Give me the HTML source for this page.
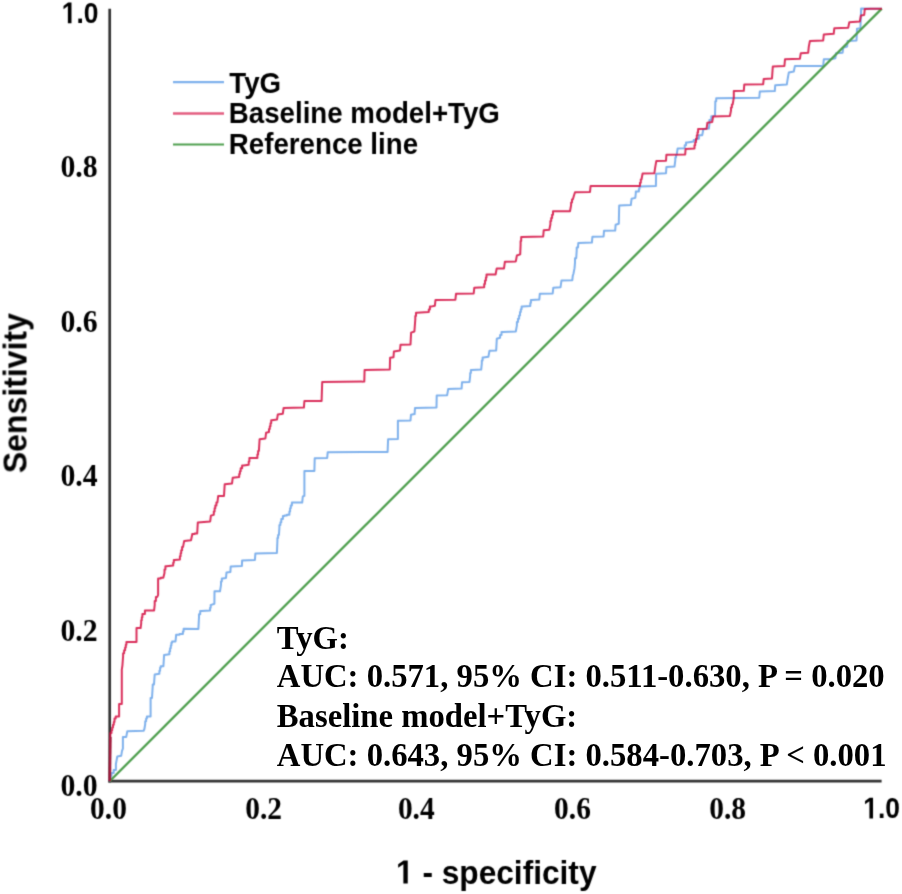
<!DOCTYPE html>
<html><head><meta charset="utf-8">
<style>
html,body{margin:0;padding:0;background:#fff;width:902px;height:894px;overflow:hidden}
svg{display:block}
.sb{font-family:"Liberation Sans",sans-serif;font-weight:bold}
.rb{font-family:"Liberation Serif",serif;font-weight:bold}
</style></head><body>
<svg width="902" height="894" viewBox="0 0 902 894">
<defs><filter id="bl" color-interpolation-filters="sRGB" filterUnits="userSpaceOnUse" x="0" y="0" width="902" height="894"><feConvolveMatrix order="3" kernelMatrix="0.0622 0.2494 0.0622 0.2494 1.0000 0.2494 0.0622 0.2494 0.0622" edgeMode="duplicate" preserveAlpha="false"/></filter></defs>
<rect width="902" height="894" fill="#fff"/>
<g filter="url(#bl)">
<g fill="#000">
<g transform="translate(97.6,176.6) scale(0.96,1)"><text class="rb" font-size="31" x="0" y="0" text-anchor="end">0.8</text></g>
<g transform="translate(97.6,331.6) scale(0.96,1)"><text class="rb" font-size="31" x="0" y="0" text-anchor="end">0.6</text></g>
<g transform="translate(97.6,486) scale(0.96,1)"><text class="rb" font-size="31" x="0" y="0" text-anchor="end">0.4</text></g>
<g transform="translate(97.6,641) scale(0.96,1)"><text class="rb" font-size="31" x="0" y="0" text-anchor="end">0.2</text></g>
<g transform="translate(97.6,796) scale(0.96,1)"><text class="rb" font-size="31" x="0" y="0" text-anchor="end">0.0</text></g>
<g transform="translate(108.5,818.6) scale(0.95,1)"><text class="rb" font-size="31" x="0" y="0" text-anchor="middle">0.0</text></g>
<g transform="translate(263.6,818.6) scale(0.95,1)"><text class="rb" font-size="31" x="0" y="0" text-anchor="middle">0.2</text></g>
<g transform="translate(416.3,818.6) scale(0.95,1)"><text class="rb" font-size="31" x="0" y="0" text-anchor="middle">0.4</text></g>
<g transform="translate(572.5,818.6) scale(0.95,1)"><text class="rb" font-size="31" x="0" y="0" text-anchor="middle">0.6</text></g>
<g transform="translate(727.6,818.6) scale(0.95,1)"><text class="rb" font-size="31" x="0" y="0" text-anchor="middle">0.8</text></g>
<g transform="translate(61.7004,23.2) scale(0.88,1)"><path d="M478 0H759V1409H493L140 1180V959L478 1170Z" transform="scale(0.014648,-0.014648)"/><text class="sb" font-size="30" x="0" y="0">&#x2007;.0</text></g>
<g transform="translate(863.25,818.4) scale(0.88,1)"><path d="M478 0H759V1409H493L140 1180V959L478 1170Z" transform="scale(0.014648,-0.014648)"/><text class="sb" font-size="30" x="0" y="0">&#x2007;.0</text></g>
<g transform="translate(396,883.5) scale(0.945,1)"><path d="M478 0H759V1409H493L140 1180V959L478 1170Z" transform="scale(0.016357,-0.016357)"/><text class="sb" font-size="33.5" x="0" y="0">&#x2007; - specificity</text></g>
<g transform="translate(26.5,393.2) rotate(-90) scale(0.955,1)"><text class="sb" font-size="33.5" x="0" y="0" text-anchor="middle">Sensitivity</text></g>
</g>
<!-- legend -->
<g stroke-width="2.2" fill="none">
<line x1="173" y1="82.1" x2="224" y2="82.1" stroke="#7fb1ec" stroke-width="2.4"/>
<line x1="173" y1="113.5" x2="224" y2="113.5" stroke="#e35d80" stroke-width="2.6"/>
<line x1="173" y1="144.5" x2="224" y2="144.5" stroke="#4f9f4f"/>
</g>
<g class="sb" font-size="29" fill="#000">
<g transform="translate(229.3,92.7) scale(0.955,1)"><text x="0" y="0">TyG</text></g>
<g transform="translate(228.8,123.2) scale(0.955,1)"><text x="0" y="0">Baseline model+TyG</text></g>
<g transform="translate(228.8,154) scale(0.955,1)"><text x="0" y="0">Reference line</text></g>
</g>
<!-- axes -->
<g stroke="#333" stroke-width="2.7" stroke-linecap="butt">
<line x1="109.7" y1="8.7" x2="109.7" y2="782.5"/>
<line x1="108.4" y1="781.2" x2="881.6" y2="781.2"/>
</g>
<!-- curves -->
<g fill="none" stroke-width="2" stroke-linejoin="round">
<path d="M109.7 781.2 L109.7 778.6 L110.6 778.6 L110.6 776.0 L111.5 776.0 L111.5 773.0 L113.7 773.0 L113.7 770.1 L115.9 770.1 L115.9 764.0 L116.7 759.7 L117.3 756.4 L121.2 755.8 L122.0 750.8 L122.9 748.6 L122.9 738.5 L122.9 737.1 L126.2 737.1 L127.3 731.2 L143.6 730.7 L144.4 729.0 L145.2 724.0 L145.2 721.2 L146.1 721.2 L146.1 718.4 L146.9 718.4 L146.9 716.6 L150.6 716.6 L150.6 699.2 L150.6 697.9 L152.0 697.9 L152.7 686.4 L152.7 684.4 L154.0 684.4 L154.7 674.4 L159.4 673.7 L159.4 670.7 L160.1 670.7 L160.1 667.7 L160.7 667.7 L160.7 666.3 L163.4 666.3 L164.1 654.9 L169.4 654.2 L169.4 651.2 L170.1 651.2 L170.1 648.2 L170.8 648.2 L170.8 645.5 L171.4 645.5 L171.4 642.8 L172.1 642.8 L172.1 641.5 L175.5 641.5 L176.1 635.4 L176.1 634.8 L179.5 634.8 L179.5 634.1 L182.9 634.1 L182.9 631.5 L183.6 631.5 L183.6 628.8 L184.2 628.8 L198.4 628.9 L199.0 617.2 L199.0 614.2 L200.2 614.2 L200.2 611.1 L201.5 611.1 L210.1 610.5 L210.1 607.7 L210.7 607.7 L210.7 604.9 L211.3 604.9 L214.4 603.7 L214.5 591.3 L220.0 591.3 L221.0 584.9 L221.0 581.6 L221.8 581.6 L221.8 578.4 L222.5 578.4 L226.0 577.9 L226.5 572.4 L230.4 571.9 L230.7 566.4 L241.9 565.9 L242.1 560.4 L254.9 559.9 L255.4 553.4 L276.9 552.9 L277.4 541.0 L277.4 538.0 L278.1 538.0 L278.1 535.0 L278.9 535.0 L279.4 528.0 L279.4 525.1 L280.4 525.1 L280.4 522.3 L281.3 522.3 L281.3 519.1 L282.9 519.1 L282.9 516.0 L284.5 516.0 L284.5 515.4 L286.9 515.4 L286.9 514.8 L289.4 514.8 L289.4 511.5 L290.1 511.5 L290.1 508.3 L290.8 508.3 L290.8 505.4 L291.9 505.4 L291.9 502.5 L293.0 502.5 L302.2 502.6 L302.8 496.5 L304.4 495.9 L304.4 471.0 L314.4 471.0 L314.7 458.2 L327.2 457.9 L327.7 452.2 L387.6 451.9 L388.1 439.2 L397.9 438.9 L397.9 420.7 L410.5 420.5 L411.0 414.7 L414.6 414.1 L415.0 407.9 L436.5 407.6 L436.7 395.6 L447.1 395.3 L448.2 389.1 L461.6 388.6 L462.0 382.2 L469.5 381.9 L470.2 375.7 L470.2 372.9 L470.9 372.9 L470.9 370.1 L471.7 370.1 L481.2 369.6 L481.8 363.4 L481.8 360.4 L482.6 360.4 L482.6 357.5 L483.4 357.5 L488.4 356.7 L489.5 350.8 L496.2 350.5 L496.8 338.8 L500.1 337.7 L500.1 334.9 L501.5 334.9 L501.5 332.1 L502.9 332.1 L515.8 331.5 L516.9 325.4 L516.9 322.0 L518.0 322.0 L518.0 318.7 L519.1 318.7 L519.1 315.4 L520.0 315.4 L520.0 312.0 L520.8 312.0 L520.8 309.2 L521.6 309.2 L521.6 306.4 L522.5 306.4 L530.3 306.0 L530.3 303.0 L530.9 303.0 L530.9 300.0 L531.5 300.0 L539.3 299.6 L539.8 293.7 L552.7 293.5 L553.3 287.7 L560.5 287.3 L561.5 280.4 L572.3 280.2 L572.8 275.6 L573.4 274.0 L574.5 268.4 L575.0 262.8 L575.0 258.3 L576.2 258.3 L576.7 250.5 L576.7 247.5 L578.0 247.5 L578.3 243.1 L591.9 242.6 L592.4 236.8 L603.6 236.4 L604.0 230.8 L615.2 230.6 L615.6 224.7 L618.8 223.8 L619.2 205.5 L630.8 205.1 L631.6 198.8 L635.3 197.9 L635.8 193.0 L635.8 191.6 L638.9 191.6 L638.9 189.1 L639.5 189.1 L639.5 186.5 L640.2 186.5 L655.9 186.0 L656.1 173.7 L666.0 173.2 L666.4 167.0 L674.5 166.5 L675.3 160.3 L675.3 157.6 L676.0 157.6 L676.0 154.9 L676.7 154.9 L677.6 148.6 L684.7 148.2 L684.7 145.3 L686.0 145.3 L686.0 142.4 L687.4 142.4 L693.7 141.5 L693.7 140.1 L696.3 140.1 L696.3 138.7 L698.9 138.7 L698.9 135.3 L702.2 135.3 L703.4 129.0 L708.9 128.6 L709.4 124.0 L709.4 120.1 L711.3 120.1 L711.3 116.2 L713.3 116.2 L715.0 115.5 L715.3 104.4 L715.3 101.3 L716.2 101.3 L716.2 98.3 L717.2 98.3 L759.3 97.7 L759.8 91.6 L774.8 91.1 L775.2 85.2 L786.8 84.6 L787.7 78.7 L788.8 72.6 L793.8 71.5 L794.9 66.0 L823.2 66.0 L823.8 59.3 L830.4 59.3 L835.4 58.2 L836.0 53.2 L842.6 52.7 L843.2 47.7 L847.1 46.6 L847.6 41.0 L856.5 40.5 L857.0 28.8 L860.4 28.3 L860.9 15.5 L861.1 8.6 L882.0 8.7" stroke="#7fb1ec"/>
<line x1="109.7" y1="781.2" x2="881.8" y2="8.6" stroke="#4f9f4f" stroke-width="2.3"/>
<path d="M109.7 781.2 L110.3 737.0 L110.3 733.0 L111.5 733.0 L111.5 730.2 L112.2 730.2 L112.2 727.4 L113.0 727.4 L113.0 724.7 L113.8 724.7 L113.8 722.0 L114.5 722.0 L114.5 718.5 L115.7 718.5 L115.7 716.6 L119.1 716.6 L119.1 705.9 L119.1 703.9 L121.8 703.9 L121.8 669.7 L122.4 665.6 L123.1 656.2 L123.1 653.2 L124.1 653.2 L124.1 650.2 L125.1 650.2 L125.1 647.5 L125.8 647.5 L125.8 644.8 L126.4 644.8 L126.4 642.1 L127.1 642.1 L136.5 642.1 L136.5 629.4 L136.5 628.0 L140.6 628.0 L141.2 623.4 L141.2 620.3 L141.8 620.3 L141.8 617.2 L142.4 617.2 L142.4 613.9 L144.9 613.9 L144.9 610.5 L147.3 610.5 L154.1 610.5 L154.7 604.9 L154.7 600.9 L155.9 600.9 L155.9 596.9 L157.2 596.9 L158.1 595.1 L158.1 579.1 L158.1 578.5 L160.7 578.5 L160.7 577.8 L163.3 577.8 L164.5 572.9 L164.5 569.5 L165.4 569.5 L165.4 566.2 L166.4 566.2 L173.2 565.5 L173.2 562.8 L173.8 562.8 L173.8 560.0 L174.4 560.0 L179.9 559.4 L179.9 556.3 L180.6 556.3 L180.6 553.2 L181.2 553.2 L181.2 550.2 L182.1 550.2 L182.1 547.1 L183.0 547.1 L184.2 540.9 L191.0 540.3 L192.2 534.8 L192.2 534.1 L194.7 534.1 L194.7 533.5 L197.2 533.5 L197.8 522.5 L210.2 521.4 L210.9 515.6 L213.8 514.8 L213.8 511.5 L214.6 511.5 L214.6 508.3 L215.3 508.3 L215.3 505.4 L216.4 505.4 L216.4 502.5 L217.4 502.5 L218.2 495.9 L224.0 495.9 L224.7 484.3 L232.0 483.6 L232.7 477.8 L239.2 477.0 L239.2 474.1 L239.9 474.1 L239.9 471.2 L240.7 471.2 L240.7 468.3 L242.1 468.3 L242.1 465.4 L243.6 465.4 L248.7 464.7 L248.7 461.4 L249.4 461.4 L249.4 458.1 L250.1 458.1 L257.4 458.1 L257.4 454.5 L258.1 454.5 L258.1 450.9 L258.9 450.9 L259.6 439.2 L265.4 438.5 L266.1 432.7 L269.0 432.0 L269.0 429.1 L269.8 429.1 L269.8 426.2 L270.5 426.2 L270.5 423.2 L271.2 423.2 L271.2 420.3 L271.9 420.3 L277.0 419.6 L277.8 414.5 L282.8 413.8 L283.6 408.0 L303.9 407.6 L304.4 401.0 L321.6 401.0 L322.2 382.1 L364.3 381.6 L364.6 369.9 L389.8 369.4 L390.1 357.7 L393.5 357.2 L393.9 351.5 L400.0 350.4 L400.5 344.8 L410.5 344.5 L411.1 332.6 L414.4 331.5 L415.3 319.3 L415.3 316.0 L416.0 316.0 L416.0 312.7 L416.6 312.7 L428.8 312.1 L428.8 309.4 L429.9 309.4 L429.9 306.6 L431.0 306.6 L434.9 305.7 L435.5 299.9 L455.4 299.7 L456.0 293.8 L473.7 293.5 L474.3 287.7 L484.2 287.2 L484.2 283.9 L485.0 283.9 L485.0 280.5 L485.9 280.5 L485.9 277.5 L486.5 277.5 L486.5 274.5 L487.2 274.5 L495.6 274.5 L496.7 268.4 L504.0 268.4 L504.9 261.7 L515.8 261.4 L516.9 255.5 L520.2 254.4 L520.6 244.9 L520.6 240.9 L521.2 240.9 L521.2 237.0 L521.9 237.0 L543.2 236.5 L543.7 230.3 L549.3 229.8 L550.4 224.2 L550.4 221.1 L551.2 221.1 L551.2 218.0 L552.1 218.0 L552.1 214.7 L553.0 214.7 L553.0 211.3 L553.8 211.3 L570.0 211.3 L571.1 205.2 L571.1 202.4 L572.0 202.4 L572.0 199.6 L572.8 199.6 L573.9 195.7 L575.0 192.3 L590.0 192.0 L590.6 186.0 L640.0 186.0 L640.0 182.8 L640.8 182.8 L640.8 179.5 L641.5 179.5 L642.6 173.5 L654.3 173.3 L655.2 167.3 L656.3 161.1 L666.0 160.8 L666.4 154.7 L685.2 154.4 L685.6 148.9 L694.5 148.4 L694.5 145.3 L695.2 145.3 L695.2 142.2 L696.0 142.2 L696.0 138.8 L696.8 138.8 L696.8 135.3 L697.5 135.3 L697.5 132.2 L698.1 132.2 L698.1 129.0 L698.8 129.0 L706.6 128.7 L707.4 122.7 L712.2 122.1 L713.1 116.6 L729.9 116.0 L731.0 110.5 L731.0 107.5 L731.9 107.5 L731.9 104.4 L732.7 104.4 L733.8 97.7 L733.8 91.1 L743.8 90.8 L744.3 84.4 L763.2 84.2 L763.7 78.9 L772.0 78.5 L772.8 66.5 L784.4 66.0 L785.0 59.3 L799.9 58.8 L800.8 53.2 L808.2 52.7 L808.8 46.6 L809.9 41.0 L823.2 40.5 L823.8 34.4 L833.7 33.8 L834.3 28.3 L848.2 27.7 L849.3 22.2 L859.8 21.6 L860.9 15.5 L864.2 15.0 L864.8 8.9 L882.0 8.7" stroke="#d40c40" stroke-opacity="0.85"/>
<line x1="109.8" y1="781" x2="110.3" y2="737" stroke="#a01a3c" stroke-width="2.6"/>
</g>
</g>
<!-- annotation -->
<g class="rb" font-size="32.7" fill="#000">
<text x="276.8" y="648.5">TyG:</text>
<text x="276.8" y="687.2">AUC: 0.571, 95% CI: 0.511-0.630, P = 0.020</text>
<text x="276.8" y="726.7">Baseline model+TyG:</text>
<text x="276.8" y="766.3">AUC: 0.643, 95% CI: 0.584-0.703, P &lt; 0.001</text>
</g>
</svg>
</body></html>
